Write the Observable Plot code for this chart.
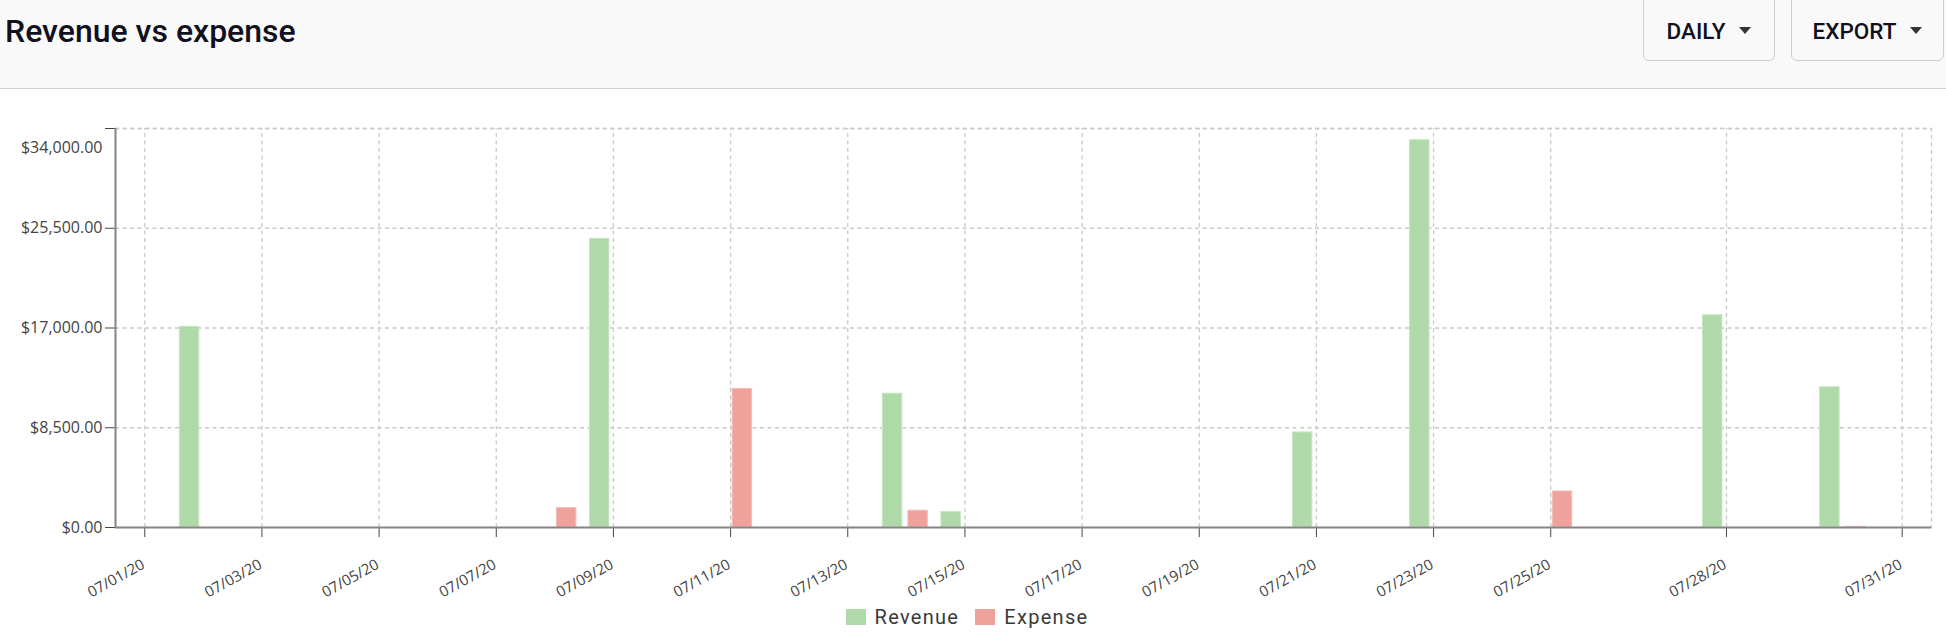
<!DOCTYPE html>
<html>
<head>
<meta charset="utf-8">
<script src="https://cdn.jsdelivr.net/npm/d3@7"></script>
<script src="https://cdn.jsdelivr.net/npm/@observablehq/plot@0.6"></script>
<style>
  html, body { margin: 0; padding: 0; background: #fff; width: 1946px; height: 635px; overflow: hidden; }
  #header { position: relative; height: 88px; background: #f9f9f9; border-bottom: 1px solid #d2d2d2; }
  #title { position: absolute; left: 5px; top: 12px; font-family: Roboto, sans-serif; font-weight: 500; font-size: 32px; color: #10101e; }
  .btn { position: absolute; top: -10px; height: 71px; border: 1px solid #cfcfcf; border-radius: 6px; background: #f9f9f9;
         box-sizing: border-box; display: flex; align-items: center; justify-content: center; padding-top: 10px;
         font-family: Roboto, sans-serif; font-weight: 500; font-size: 22.5px; color: #10101e; }
  .btn .tri { display: inline-block; width: 0; height: 0; border-left: 6px solid transparent; border-right: 6px solid transparent;
              border-top: 7px solid #333; margin-left: 14px; }
  #chart svg { display: block; }
  #legend { display: flex; justify-content: center; align-items: center; height: 45px; box-sizing: border-box; padding-top: 8px; padding-right: 12px;
            font-family: Roboto, sans-serif; font-size: 20px; color: #3a3a3a; letter-spacing: 1.3px; }
  #legend .sw { display: inline-block; width: 20px; height: 16px; margin-right: 9px; }
  #legend .item { display: flex; align-items: center; margin: 0 8px; }
</style>
</head>
<body>
<div id="header">
  <div id="title">Revenue vs expense</div>
  <div class="btn" style="left:1643px;width:132px;">DAILY<span class="tri"></span></div>
  <div class="btn" style="left:1791px;width:153px;">EXPORT<span class="tri"></span></div>
</div>
<div id="chart"></div>
<div id="legend"></div>
<script>
// ---- data ----
const seriesNames = ["Revenue", "Expense"];
const seriesColors = ["#b0d9a9", "#efa19c"];
const revenueDates = ["2020-07-02", "2020-07-09", "2020-07-14", "2020-07-15", "2020-07-21", "2020-07-23", "2020-07-28", "2020-07-30"];
const revenueValues = [17100, 24600, 11400, 1320, 8100, 33000, 18090, 11950];
const expenseDates = ["2020-07-08", "2020-07-11", "2020-07-14", "2020-07-25", "2020-07-30"];
const expenseValues = [1650, 11800, 1430, 3070, 60];
const xTickLabels = ["07/01/20", "07/03/20", "07/05/20", "07/07/20", "07/09/20", "07/11/20", "07/13/20", "07/15/20", "07/17/20", "07/19/20", "07/21/20", "07/23/20", "07/25/20", "07/28/20", "07/31/20"];
const yTicks = [0, 8500, 17000, 25500, 34000];

// ---- build ----
const parse = d3.utcParse("%Y-%m-%d");
const parseTick = d3.utcParse("%m/%d/%y");
const fmtTick = d3.utcFormat("%m/%d/%y");
const fmtMoney = d3.format("$,.2f");
const DAY = 864e5;
const shift = (date, frac) => new Date(+date + frac * DAY);

const revenue = revenueDates.map((d, i) => ({date: parse(d), value: revenueValues[i], series: seriesNames[0]}));
const expense = expenseDates.map((d, i) => ({date: parse(d), value: expenseValues[i], series: seriesNames[1]}));
const xTicks = xTickLabels.map(parseTick);
const xDomain = [shift(parse("2020-06-30"), 0.5), shift(parse("2020-07-31"), 0.5)];
const yMax = yTicks[yTicks.length - 1];

const grid = {stroke: "#c9c9c9", strokeWidth: 1.3, strokeDasharray: "4,3.5"};
const labelColor = "#444";

const plot = Plot.plot({
  width: 1946,
  height: 501,
  marginLeft: 115,
  marginRight: 15,
  marginTop: 39,
  marginBottom: 63,
  style: {fontFamily: "'Open Sans', sans-serif", fontSize: "16px", color: labelColor, background: "transparent", overflow: "visible"},
  x: {type: "utc", domain: xDomain, ticks: xTicks, tickFormat: () => "", tickSize: 10, label: null},
  y: {domain: [0, yMax], ticks: yTicks, tickSize: 10, tickPadding: 3, tickFormat: d => d === yMax ? "" : fmtMoney(d), label: null},
  marks: [
    Plot.ruleY(yTicks.slice(1), grid),
    Plot.ruleX(xTicks, {...grid, y1: 0, y2: yMax}),
    Plot.frame({...grid}),
    Plot.rectY(revenue, {x1: d => shift(d.date, -0.401), x2: d => shift(d.date, -0.069), y: "value", fill: seriesColors[0], stroke: "#c6e6c0", strokeWidth: 1}),
    Plot.rectY(expense, {x1: d => shift(d.date, 0.035), x2: d => shift(d.date, 0.367), y: "value", fill: seriesColors[1], stroke: "#f5bcb8", strokeWidth: 1}),
    Plot.ruleX([xDomain[0]], {stroke: "#858585", strokeWidth: 2}),
    Plot.ruleY([0], {stroke: "#858585", strokeWidth: 2}),
    Plot.text([yMax], {x: xDomain[0], y: d => d, text: fmtMoney, textAnchor: "end", dx: -13, dy: 19, fill: labelColor, fontSize: 16}),
    Plot.text(xTicks, {x: d => d, frameAnchor: "bottom", text: fmtTick, rotate: -29, textAnchor: "end", dx: 1, dy: 40, fill: labelColor, fontSize: 15})
  ]
});
// axis tick lines grey like the reference
d3.select(plot).selectAll('g[aria-label^="y-axis"] line').attr("stroke", "#858585").attr("stroke-width", 2);
d3.select(plot).selectAll('g[aria-label^="x-axis"] line').attr("stroke", "#6a6a6a").attr("stroke-width", 1.6);
document.getElementById("chart").appendChild(plot);

// ---- legend ----
const legend = document.getElementById("legend");
seriesNames.forEach((name, i) => {
  const item = document.createElement("div");
  item.className = "item";
  const sw = document.createElement("span");
  sw.className = "sw";
  sw.style.background = seriesColors[i];
  item.appendChild(sw);
  item.appendChild(document.createTextNode(name));
  legend.appendChild(item);
});
</script>
</body>
</html>
